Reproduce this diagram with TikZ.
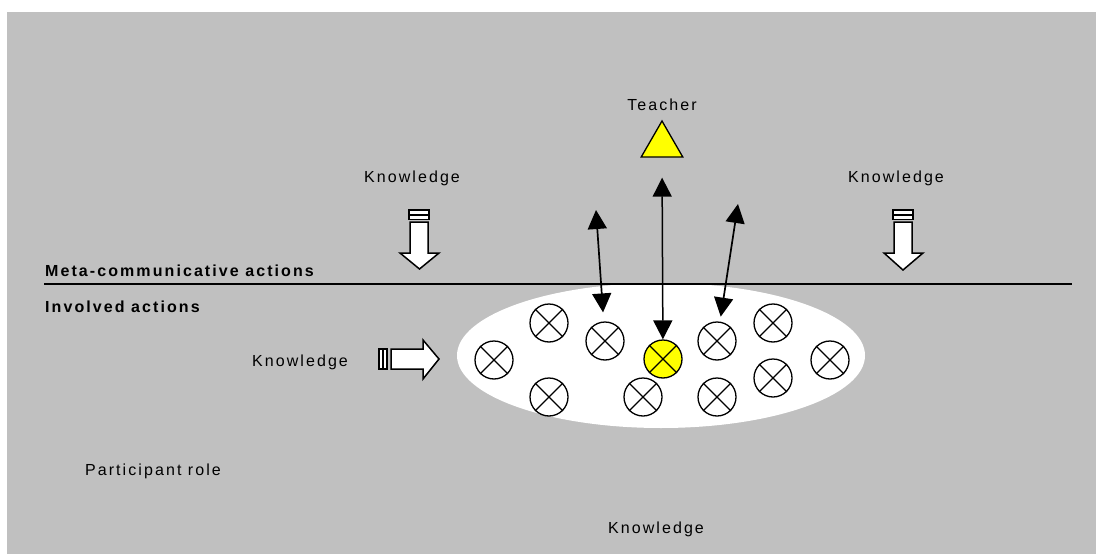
\documentclass[tikz,border=0pt]{standalone}
\usepackage{fontspec}
\setmainfont{Liberation Sans}
\newfontfamily\lblfont[LetterSpace=13]{Liberation Sans}
\usetikzlibrary{arrows.meta,shapes.geometric}
\definecolor{panel}{HTML}{C0C0C0}
\definecolor{marker}{HTML}{FFFF00}
\begin{document}
\begin{tikzpicture}[x=1pt,y=-1pt,
  lbl/.style={font=\lblfont\fontsize{16}{18}\selectfont, inner sep=0pt},
  heading/.style={font=\lblfont\bfseries\fontsize{16}{18}\selectfont, inner sep=0pt, anchor=base west},
  member/.style={circle, draw, line width=1.3pt, fill=white, minimum size=38pt, inner sep=0pt},
  link/.style={line width=1.7pt, {Triangle[length=19pt,width=19pt]}-{Triangle[length=19pt,width=19pt]}},
  blockarrow/.style={draw, fill=white, line width=1.5pt, line join=miter},
]
\useasboundingbox (0,0) rectangle (1096,554);
\fill[white] (0,0) rectangle (1096,554);
\fill[panel] (7,12) rectangle (1096,554);

% group of participants
\node[ellipse, fill=white, minimum width=408pt, minimum height=145pt, inner sep=0pt] (group) at (661,355.5) {};

% divider between the two kinds of action
\coordinate (divL) at (44,284);
\coordinate (divR) at (1072,284);
\draw[line width=1.7pt] (divL) -- (divR);

\node[heading] (meta) at (45,276) {Meta-communicative actions};
\node[heading] (inv) at (45,312) {Involved actions};

% teacher
\node[regular polygon, regular polygon sides=3, draw, fill=marker, line width=1.3pt,
      minimum size=48pt, inner sep=0pt] (teacher) at (662,145) {};
\node[lbl, anchor=base] (teacherlbl) at (662,110) {Teacher};

% participants
\foreach \n/\x/\y in {c1/494/360, c2/549/323, c3/549/397, c4/605/341, c6/643/397,
                      c7/717/341, c8/717/397, c9/773/323, c10/773/378, c11/830/360} {
  \node[member] (\n) at (\x,\y) {};
  \draw[line width=1.3pt] (\n.45) -- (\n.225) (\n.135) -- (\n.315);
}
\node[member, fill=marker] (c5) at (663,359) {};
\draw[line width=1.3pt] (c5.45) -- (c5.225) (c5.135) -- (c5.315);

% interactions
\coordinate (lt) at (596,210);
\coordinate (rt) at (738,204);
\draw[link, shorten >=9pt] (lt) -- (c4);
\draw[link, shorten >=5pt] (rt) -- (c7);
\draw[link, line width=1.5pt, shorten <=20pt] (teacher.south) -- (c5);

% knowledge labels
\node[lbl, anchor=base] (k1) at (412,182) {Knowledge};
\node[lbl, anchor=base] (k2) at (896,182) {Knowledge};
\node[lbl, anchor=base] (k3) at (300,366) {Knowledge};
\node[lbl, anchor=base] (k4) at (656,533) {Knowledge};
\node[lbl, anchor=base] (role) at (153,475) {Participant role};

% block arrows: knowledge flowing in
\path[blockarrow] (409,210) rectangle (429,219.5);
\draw[line width=1.5pt] (409,215) -- (429,215);
\path[blockarrow] (410,222) -- (428,222) -- (428,253) -- (439,253) -- (419.5,269)
  -- (400,253) -- (410,253) -- cycle;

\path[blockarrow] (893,210) rectangle (913,219.5);
\draw[line width=1.5pt] (893,215) -- (913,215);
\path[blockarrow] (894,222) -- (912,222) -- (912,253) -- (923,253) -- (903,270)
  -- (884,253) -- (894,253) -- cycle;

\path[blockarrow] (379,349) rectangle (387,369);
\draw[line width=1.5pt] (383,349) -- (383,369);
\path[blockarrow] (391,349) -- (423,349) -- (423,340) -- (439,359) -- (423,379)
  -- (423,369) -- (391,369) -- cycle;
\end{tikzpicture}
\end{document}
